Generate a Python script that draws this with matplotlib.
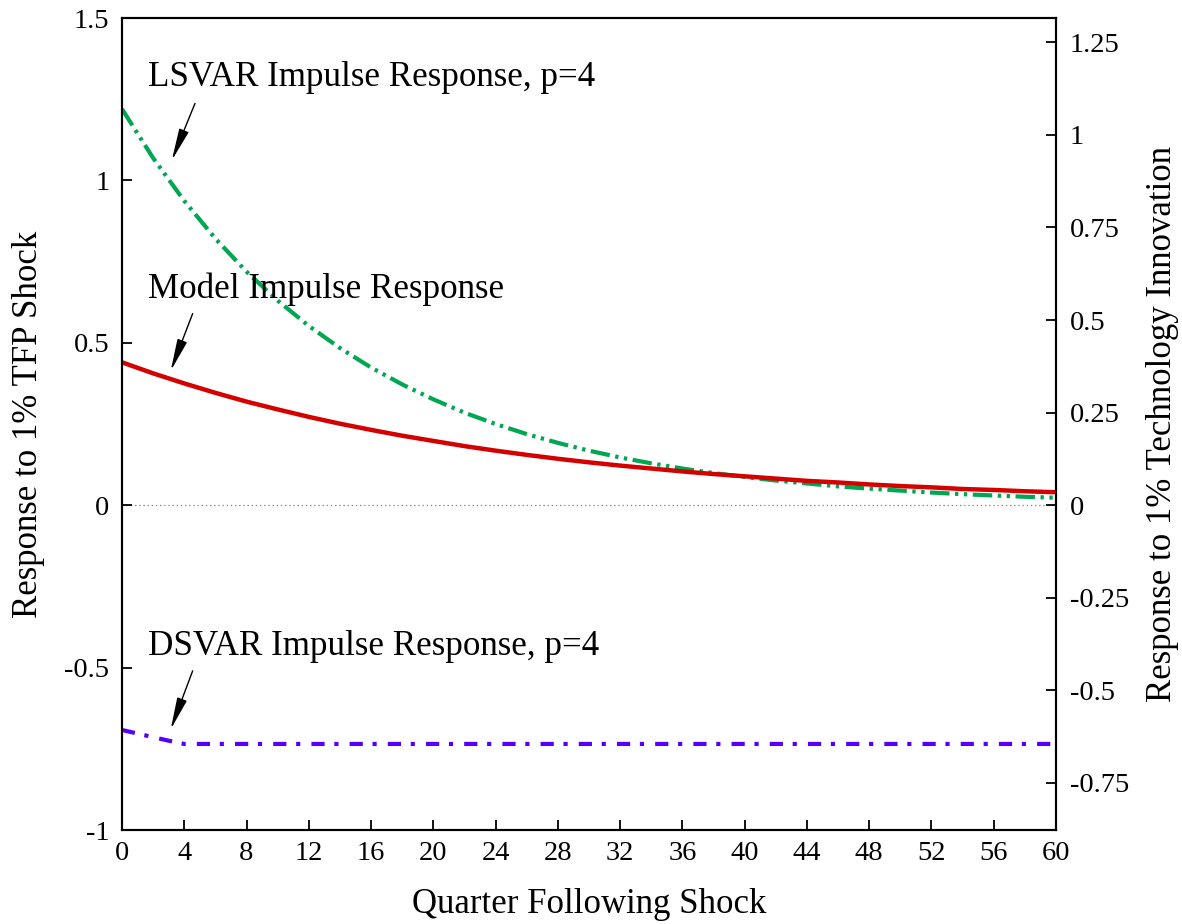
import matplotlib
matplotlib.use("Agg")
import matplotlib.pyplot as plt

plt.rcParams['font.family'] = ['Liberation Serif', 'DejaVu Serif']
plt.rcParams['lines.scale_dashes'] = False

# Data
quarters = list(range(0, 61, 2))
lsvar = [1.220, 1.069, 0.937, 0.821, 0.719, 0.630, 0.552, 0.484, 0.424, 0.372,
         0.326, 0.285, 0.250, 0.219, 0.192, 0.168, 0.147, 0.129, 0.113, 0.099,
         0.087, 0.076, 0.067, 0.058, 0.051, 0.045, 0.039, 0.034, 0.030, 0.026, 0.023]
model = [0.440, 0.406, 0.375, 0.346, 0.319, 0.295, 0.272, 0.251, 0.232, 0.214,
         0.198, 0.182, 0.168, 0.155, 0.143, 0.132, 0.122, 0.113, 0.104, 0.096,
         0.089, 0.082, 0.075, 0.070, 0.064, 0.059, 0.055, 0.050, 0.047, 0.043, 0.040]
dsvar_q = [0, 1, 2, 3, 4, 60]
dsvar = [-0.692, -0.703, -0.714, -0.725, -0.735, -0.735]

xticks = list(range(0, 61, 4))
left_ticks = [-1, -0.5, 0, 0.5, 1, 1.5]
left_labels = ["-1", "-0.5", "0", "0.5", "1", "1.5"]
right_ticks = [-0.75, -0.5, -0.25, 0, 0.25, 0.5, 0.75, 1, 1.25]
right_labels = ["-0.75", "-0.5", "-0.25", "0", "0.25", "0.5", "0.75", "1", "1.25"]

fig = plt.figure(figsize=(11.82, 9.24), dpi=100)
ax = fig.add_axes([0.1032, 0.1017, 0.7902, 0.8788])

ax.axhline(0, color='#888888', lw=0.9, ls=(0, (1, 2)), zorder=1)

ax.plot(quarters, lsvar, color='#00a651', lw=3.0,
        ls=(0, (14, 4, 2.4, 4, 2.4, 4)), zorder=3)
ax.plot(quarters, model, color='#d40000', lw=3.2, zorder=4)
ax.plot(dsvar_q, dsvar, color='#5500ff', lw=3.0,
        ls=(0, (9.5, 7, 3, 8)), zorder=3)

ax.set_xlim(0, 60)
ax.set_ylim(-1, 1.5)
ax.set_xticks(xticks)
ax.set_xticklabels([str(t) for t in xticks])
ax.set_yticks(left_ticks)
ax.set_yticklabels(left_labels)

ax2 = ax.twinx()
ax2.set_ylim(-0.878, 1.316)
ax2.set_yticks(right_ticks)
ax2.set_yticklabels(right_labels)

for a in (ax, ax2):
    for s in a.spines.values():
        s.set_linewidth(1.5)
ax.tick_params(axis='both', direction='in', length=7, width=1.3, labelsize=20.5, pad=8)
ax.tick_params(axis='y', pad=9)
ax2.tick_params(axis='y', direction='in', length=7, width=1.3, labelsize=20.5, pad=10)

ax.set_xlabel('Quarter Following Shock', fontsize=25, labelpad=16)
ax.set_ylabel('Response to 1% TFP Shock', fontsize=25, labelpad=14)
ax2.set_ylabel('Response to 1% Technology Innovation', fontsize=25, labelpad=12)

arrow = dict(arrowstyle='-|>,head_length=1.4,head_width=0.22', color='black',
             lw=1.0, mutation_scale=14, shrinkA=0, shrinkB=0)
ax.annotate('', xy=(3.2, 1.062), xytext=(4.69, 1.237), arrowprops=arrow)
ax.annotate('', xy=(3.13, 0.414), xytext=(4.54, 0.590), arrowprops=arrow)
ax.annotate('', xy=(3.13, -0.690), xytext=(4.54, -0.510), arrowprops=arrow)

ax.text(1.67, 1.292, 'LSVAR Impulse Response, p=4', fontsize=25.2, va='baseline', ha='left')
ax.text(1.67, 0.637, 'Model Impulse Response', fontsize=25.2, va='baseline', ha='left')
ax.text(1.67, -0.4615, 'DSVAR Impulse Response, p=4', fontsize=25.2, va='baseline', ha='left')

fig.savefig('out.png', dpi=100)
